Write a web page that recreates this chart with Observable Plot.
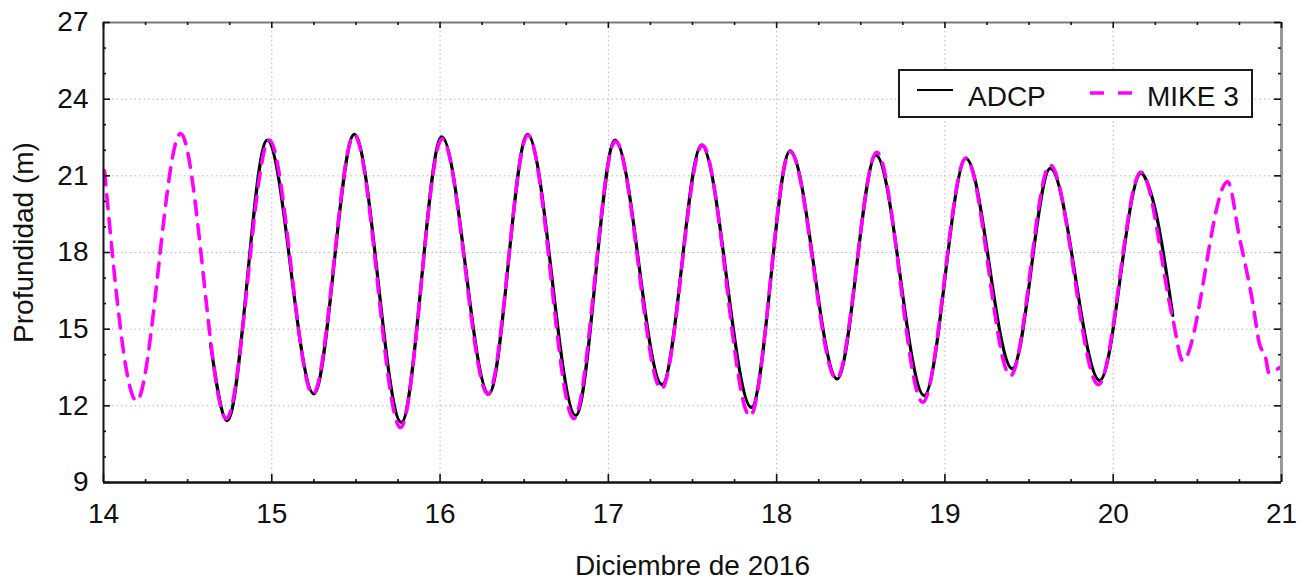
<!DOCTYPE html>
<html>
<head>
<meta charset="utf-8">
<script src="https://cdn.jsdelivr.net/npm/d3@7"></script>
<script src="https://cdn.jsdelivr.net/npm/@observablehq/plot@0.6"></script>
<style>
  html, body { margin: 0; padding: 0; background: #fff; }
  #chart { position: relative; width: 1311px; height: 583px; font-family: "Liberation Sans", Arial, sans-serif; color: #111; }
  .legend { position: absolute; left: 898px; top: 69px; width: 351px; height: 45px; border: 2px solid #1a1a1a; background: #fff; }
  .legend svg { position: absolute; left: 0; top: 0; }
  .legend span { position: absolute; font-size: 28px; line-height: 1; color: #111; }
</style>
</head>
<body>
<div id="chart"></div>
<script>
// Tidal depth at the ADCP station, December 2016 (day of month, metres)
const adcpDay   = [14.636, 14.735, 14.973, 15.25, 15.49, 15.77, 16.01, 16.29, 16.52, 16.806, 17.04, 17.32,
                   17.553, 17.85, 18.08, 18.36, 18.59, 18.877, 19.125, 19.40, 19.626, 19.92, 20.165, 20.225, 20.354];
const adcpDepth = [14.43, 11.42, 22.4, 12.47, 22.62, 11.35, 22.53, 12.47, 22.62, 11.62, 22.4, 12.83,
                   22.2, 11.94, 21.98, 13.05, 21.81, 12.4, 21.68, 13.45, 21.29, 12.99, 21.1, 20.3, 15.54];

// MIKE 3 model output at the same point
const mikeDay   = [14.006, 14.196, 14.458, 14.73, 14.985, 15.245, 15.49, 15.765, 16.012, 16.285, 16.522, 16.795,
                   17.042, 17.315, 17.558, 17.842, 18.08, 18.355, 18.595, 18.868, 19.125, 19.39, 19.625, 19.912,
                   20.165, 20.354, 20.413, 20.68, 20.75, 20.83, 20.868, 20.905, 20.925, 20.99];
const mikeDepth = [21.2, 12.2, 22.65, 11.5, 22.4, 12.45, 22.6, 11.15, 22.45, 12.45, 22.6, 11.5,
                   22.35, 12.66, 22.2, 11.6, 21.95, 13.05, 21.92, 12.14, 21.7, 13.18, 21.42, 12.83,
                   21.15, 15.4, 13.77, 20.77, 18.6, 16.0, 14.45, 13.9, 13.3, 13.5];

// Axis ticks
const dayTicks      = [14, 15, 16, 17, 18, 19, 20, 21];
const dayMinorTicks = d3.range(14, 21.001, 0.25).filter(d => !Number.isInteger(d));
const depthTicks      = [9, 12, 15, 18, 21, 24, 27];
const depthMinorTicks = d3.range(9, 27.001, 1).filter(d => d % 3 !== 0);

const xLabel = "Diciembre de 2016";
const yLabel = "Profundidad (m)";
const seriesNames = ["ADCP", "MIKE 3"];

const adcp = adcpDay.map((d, i) => ({day: d, depth: adcpDepth[i]}));
const mike = mikeDay.map((d, i) => ({day: d, depth: mikeDepth[i]}));

const width = 1311, height = 583;
const margin = {top: 22, right: 30, bottom: 101, left: 103};
const frameW = width - margin.left - margin.right;
const frameH = height - margin.top - margin.bottom;

const grid = {stroke: "#b4b4b4", strokeOpacity: 1, strokeWidth: 1, strokeDasharray: "1.5,3"};
const tk = {stroke: "#111", strokeWidth: 1.6};

const chart = Plot.plot({
  width, height,
  marginTop: margin.top, marginRight: margin.right, marginBottom: margin.bottom, marginLeft: margin.left,
  style: {fontFamily: "'Liberation Sans', Arial, sans-serif", fontSize: "28px", color: "#111", background: "#fff", overflow: "visible"},
  x: {domain: [14, 21]},
  y: {domain: [9, 27]},
  marks: [
    Plot.gridX(dayTicks.slice(1, -1), grid),
    Plot.gridY(depthTicks.slice(1, -1), grid),

    Plot.line(adcp, {x: "day", y: "depth", curve: "monotone-x", stroke: "#000", strokeWidth: 3.2}),
    Plot.line(mike, {x: "day", y: "depth", curve: "monotone-x", stroke: "#ff00ff", strokeWidth: 3.6, strokeDasharray: "14,10"}),

    // frame: dark on the left and bottom, grey on the top and right
    Plot.ruleY([27], {stroke: "#7a7a7a", strokeWidth: 2}),
    Plot.ruleX([21], {stroke: "#999", strokeWidth: 3}),
    Plot.ruleX([14], {stroke: "#111", strokeWidth: 2}),
    Plot.ruleY([9], {stroke: "#111", strokeWidth: 2.4}),

    // inward ticks on all four sides
    Plot.tickX(dayTicks, {x: d => d, insetTop: frameH - 8, ...tk}),
    Plot.tickX(dayTicks, {x: d => d, insetBottom: frameH - 6, ...tk}),
    Plot.tickX(dayMinorTicks, {x: d => d, insetTop: frameH - 3, ...tk}),
    Plot.tickX(dayMinorTicks, {x: d => d, insetBottom: frameH - 3, ...tk}),
    Plot.tickY(depthTicks, {y: d => d, insetRight: frameW - 7, ...tk}),
    Plot.tickY(depthTicks, {y: d => d, insetLeft: frameW - 7, ...tk}),
    Plot.tickY(depthMinorTicks, {y: d => d, insetRight: frameW - 3, ...tk}),
    Plot.tickY(depthMinorTicks, {y: d => d, insetLeft: frameW - 3, ...tk}),

    Plot.axisX(dayTicks, {tickSize: 0, tickPadding: 21, label: null, tickFormat: d => String(d), fill: "#111"}),
    Plot.axisY(depthTicks, {tickSize: 0, tickPadding: 15, label: null, tickFormat: d => String(d), fill: "#111"}),

    Plot.text([xLabel], {frameAnchor: "bottom", dy: 92, text: d => d, fill: "#111"}),
    Plot.text([yLabel], {frameAnchor: "left", textAnchor: "middle", dx: -79, dy: -10, rotate: -90, text: d => d, fill: "#111"})
  ]
});

const root = document.getElementById("chart");
root.appendChild(chart);

// legend box inside the upper right of the frame
const legend = document.createElement("div");
legend.className = "legend";
legend.innerHTML = `
  <svg width="351" height="45">
    <line x1="17" x2="53" y1="19" y2="19" stroke="#000" stroke-width="2.2"/>
    <line x1="190" x2="234" y1="22" y2="22" stroke="#ff00ff" stroke-width="3.6" stroke-dasharray="14,14"/>
  </svg>
  <span style="left:68px; top:12px">${seriesNames[0]}</span>
  <span style="left:247px; top:12px">${seriesNames[1]}</span>`;
root.appendChild(legend);
</script>
</body>
</html>
